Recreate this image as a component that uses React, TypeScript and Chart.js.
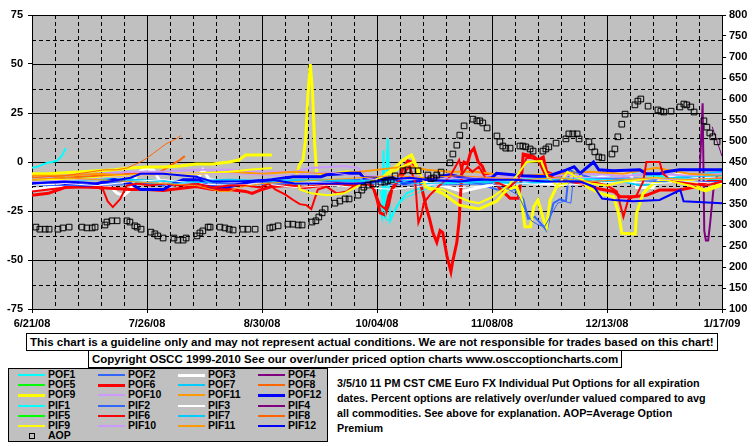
import React, { useEffect, useRef } from "react";
import { Chart, registerables } from "chart.js";
Chart.register(...registerables);

type P = [number, number | null];

// x = days since 6/21/08
const DATE_LABELS = ["6/21/08", "7/26/08", "8/30/08", "10/04/08", "11/08/08", "12/13/08", "1/17/09"];

const POF1: P[] = [[0,-3],[1.5,-2.5],[3,-1.5],[4.5,-0.5],[6,0],[7.5,0.5],[9,3],[10.3,7],[10.4,null],[100,-10],[102,-12],[104,-14],[105.5,-22],[106.5,-28],[107,6],[107.4,-29],[108.3,12],[109,-30],[110,-26],[112,-20],[114,-16],[117,-14],[121,-12],[125,-11],[130,-10],[135,-11],[140,-11],[150,-10],[160,-9],[170,-8],[175,-7],[180,-6],[190,-7],[200,-8],[210,-9]];
const POF2: P[] = [[0,-11],[10,-10],[20,-11],[30,-10],[40,-12],[50,-10],[60,-11],[70,-10],[80,-11],[90,-10],[100,-9],[110,-11],[120,-10],[130,-9],[136,-11],[141.5,-14],[147,-14],[149.5,-19],[151,-29],[153,-28],[155.7,-33],[156.6,-35],[158.7,-21],[160.7,-19],[162.5,-20],[163.5,-4],[166,-6],[172,-9],[180,-8],[190,-9],[200,-8],[210,-8]];
const POF3: P[] = [[0,-14],[5,-13],[10,-13],[15,-12],[20,-11],[24,-13],[26,-16],[28,-17],[30,-14],[32,-6],[34,-3.5],[37,-4],[39,-10],[42,-12],[47,-11],[50,-10],[52,-4],[54,-9],[60,-10],[66,-10],[73,-9],[80,-10],[90,-11],[100,-12],[110,-11],[118,-10],[125,-12],[131,-15],[136,-13],[142,-11],[150,-10],[158,-11],[165,-9],[172,-8],[177,-6],[182,-6],[184,-13],[189,-13],[191,-9],[197,-6],[203,-8],[210,-8]];
const POF4: P[] = [[203,-14],[204.1,30],[204.6,-35],[205.1,-40],[205.8,-40],[206.4,-31],[207.4,-14],[208.4,-7.5],[210,-5]];
const POF5: P[] = [];
const POF6: P[] = [[0,-17],[5,-16],[10,-13],[15,-12.5],[20,-13],[25,-13.5],[30,-14],[35,-14],[40,-14.5],[45,-13.5],[50,-12.5],[55,-14],[60,-14],[65,-15],[67,-16],[70,-14],[73,-12.5],[78,-12],[83,-13],[88,-12],[93,-11],[98,-12],[103.5,-11],[105,-19],[106,-26],[107.4,-27],[108.5,-22],[109.5,-14],[111,-11],[113,-3],[114.4,0.6],[115.4,0],[117,-2.4],[118,-9],[119,-16],[120,-23],[121,-29],[122,-36],[123.2,-41],[124.2,-35],[125,-36],[126.3,-48],[127.5,-56],[128,-51],[129.3,-41],[130,-30],[130.9,-2],[131.5,0],[132.5,-1],[133.5,5],[134.5,7],[135.8,0],[137,-2],[138,-6],[140,-8],[142.4,-13.5],[145.5,-18.5],[148,-18.5],[149,-7.5],[149.5,4],[152.5,3],[154,1],[155.6,2.5],[156.6,-5],[162,-9],[167,-11],[172,-13.5],[177,-15],[179,-17.7],[183,-17.7],[187,-17],[191,-14.3],[197,-14.3],[202,-12.6],[207,-9],[210,-9]];
const POF7: P[] = [[0,-9],[15,-8],[30,-9],[45,-10],[60,-9],[75,-10],[90,-9],[105,-10],[120,-9],[135,-10],[150,-11],[165,-9],[175,-8],[180,-10],[185,-12],[190,-11],[200,-7],[210,-5]];
const POF8: P[] = [[0,-9],[10,-8],[20,-7],[30,-6],[35,-5.5],[39,-5],[41,-3],[43,-1],[45,1],[46.5,3]];
const POF9: P[] = [[0,-6],[5,-6],[10,-5.5],[15,-5],[20,-4.5],[25,-4],[30,-3],[35,-2.5],[40,-2.5],[45,-2],[50,-1],[55,-1],[60,0],[63,1],[65,3.6],[73,3.6],[73.1,null],[79,-8],[80.5,-7],[81.5,-1],[82.5,1],[83.3,12],[84,35],[84.7,50],[85.4,35],[86,10],[86.6,-5],[88,-7],[92,-6],[96,-5],[100,-6],[103,-8],[106,-9],[108,-6],[111,-2],[113,1],[115.5,3.6],[117,-2],[118,-9],[120,-13],[125,-16],[130,-22],[136,-24],[141.4,-20],[144.4,-14.3],[147.5,-12.6],[149,-19.4],[150,-33],[151.7,-33],[152.7,-22.8],[154,-19.4],[155.7,-29.5],[156.6,-33],[157.7,-19.4],[159.7,-12.6],[162.7,-10.9],[165.8,-4.1],[168.8,-12.6],[172.9,-16],[177,-17.7],[178.5,-26],[179.5,-36.4],[183.6,-36.7],[184,-26],[186,-16],[189,-10.9],[193.2,-9.2],[197.3,-9.2],[201.4,-10],[203.4,-13.5],[205,-14.3],[207.4,-12.6],[210,-10.9]];
const POF10: P[] = [[0,-8],[10,-7],[20,-6],[30,-5],[40,-5],[50,-4],[60,-4],[70,-5],[80,-5],[85,-3],[90,-2.5],[95,-2],[99,-3],[102,-7],[110,-8],[120,-7],[130,-8],[140,-7],[150,-8],[160,-7],[170,-6],[180,-7],[190,-6],[200,-7],[210,-6]];
const POF11: P[] = [[0,-7],[10,-7],[20,-6],[30,-7],[40,-6],[50,-6],[60,-5],[70,-6],[80,-5],[90,-6],[100,-5],[110,-3],[115,-2],[120,-4],[127,-5],[135,-5],[140,-6],[150,-7],[160,-6],[170,-5],[180,-6],[190,-3],[193,-4],[200,-6],[210,-7]];
const POF12: P[] = [[0,-10],[5,-10],[10,-11],[15,-12],[18,-12],[22,-10],[25,-9],[30,-11],[33,-14],[36,-14],[40,-14],[43,-11],[46,-9],[51,-9],[54,-12.6],[60,-12.6],[67,-10],[73,-9],[79.5,-7.5],[88,-7.5],[89.6,-6.5],[97,-5.8],[99.8,-5.8],[101,-8],[110,-8],[113,-11],[120,-9],[127,-6.5],[135,-9],[140,-8],[141.4,-5.8],[149.5,-7],[156.6,-7.5],[162.7,-4],[165,-2.4],[166.8,-5.8],[170.9,0],[172.5,-4],[177,-4.5],[185,-4],[187,-6],[191,-6],[193,-5],[197,-4],[210,-4]];

const PIF1: P[] = [[100,-9],[104,-11],[106,-15],[108,-30],[109,-29],[111,-22],[114,-18],[117,-16],[121,-13],[127,-11],[135,-10],[145,-9],[160,-8],[175,-9],[190,-8],[210,-9]];
const PIF2: P[] = [[0,-12],[20,-12],[40,-11],[60,-12],[80,-11],[100,-11],[120,-12],[140,-11],[145,-14],[148,-17],[150,-24],[152,-30],[154,-32],[156,-33],[158,-27],[160,-21],[162,-20],[164,-21],[165,-5],[170,-8],[190,-10],[210,-10]];
const PIF3: P[] = [[0,-12],[10,-11],[20,-12],[30,-10],[40,-9],[50,-11],[60,-12],[70,-11],[80,-13],[90,-12],[100,-13],[110,-14],[120,-12],[130,-13],[140,-12],[150,-11],[160,-12],[170,-11],[180,-10],[190,-11],[200,-10],[210,-11]];
const PIF4: P[] = [[207,18],[208,13],[209,8],[210,3]];
const PIF5: P[] = [];
const PIF6: P[] = [[0,-15],[5,-14],[10,-13],[15,-13],[20,-13],[21.6,-14],[23,-20],[24.6,-23],[26.8,-19],[28.9,-12],[32,-11],[36,-12],[40,-11],[45,-12],[50,-11],[55,-13],[60,-12],[65,-12],[69.4,-13],[72,-11],[74,-14],[77,-16.5],[79.5,-19.4],[81.5,-21.5],[83.5,-22],[85,-24],[86,-19],[87,-14],[89.6,-12.6],[92.7,-16],[95.8,-15],[99,-11],[102,-11],[104,-14],[106,-22],[107.5,-24],[108.5,-17],[110,-12],[112,-9],[114,-4],[115,-2.4],[116.7,-11],[117.2,-23],[117.6,-31],[118.5,-27],[119.2,-21],[121,-17],[124,-12],[127,-8],[130,1],[131,-6],[132.5,-2.4],[134,-5],[136,-2.4],[138,-8],[141,-10],[145,-13],[148,-9],[150.6,2.6],[154,1],[156,-6],[160,-9],[165,-10],[170,-10],[175,-12],[178,-15],[180,-28],[181.5,-19],[184,-17],[186,-10],[187,0],[191,0],[192,-6],[195,-10],[200,-11],[205,-12],[210,-10]];
const PIF7: P[] = [[0,-10],[20,-9],[40,-11],[60,-10],[80,-9],[100,-10],[120,-11],[140,-10],[160,-9],[175,-10],[185,-9],[195,-8],[210,-7]];
const PIF8: P[] = [[0,-8],[10,-7],[18,-5],[22,-4],[26,-4],[29,-3],[31,-1.5],[33,0],[35,2],[37,4.5],[39,7],[41,9.5],[43,11],[44.5,12.5],[45.3,13.5]];
const PIF9: P[] = [[0,-9],[10,-9],[20,-8],[30,-7],[40,-6],[50,-6],[60,-5],[66,-4],[73,-3],[73.1,null],[81,-10],[81.5,-14],[85,-16],[90,-17],[95,-16],[99.8,-11.7],[102.8,-10],[106,-8],[110,-5],[113,-2],[116,0],[118,-5],[120,-13],[125,-14],[130,-18],[133,-20],[136,-21],[140,-18],[145,-12],[148,-6],[150.5,0],[155,0.5],[157,-8],[160,-12],[163,-5],[166,-8],[170,-11],[175,-12],[180,-10],[185,-9],[190,-8],[195,-10],[200,-12],[205,-15],[210,-12]];
const PIF10: P[] = [[0,-10],[15,-9],[30,-7],[45,-6],[60,-6],[75,-7],[90,-5],[105,-9],[120,-9],[135,-8],[150,-9],[165,-8],[180,-8],[195,-9],[210,-8]];
const PIF11: P[] = [[0,-9],[10,-8],[20,-9],[30,-10],[40,-11],[50,-12],[57,-15],[60,-15],[63,-13],[70,-11],[80,-10],[90,-9],[100,-8],[110,-7],[120,-8],[130,-7],[140,-8],[150,-9],[160,-8],[170,-10],[180,-9],[190,-8],[200,-9],[210,-8]];
const PIF12: P[] = [[0,-11],[10,-10],[20,-11],[30,-8],[33,-6],[40,-6],[50,-7.5],[55,-10],[63,-10],[73,-9],[80,-11],[90,-11],[100,-11],[108,-9],[115,-8],[120,-9],[130,-10],[136,-9],[146.5,-9],[156.6,-10],[166.8,-10],[171,-12.6],[173.5,-18.6],[177,-19.4],[183,-20],[191,-19.4],[197.3,-14.3],[198.3,-20],[210,-21]];

const AOP: P[] = [[1.2,295],[2.4,290],[4,290],[5.2,290],[7.9,290],[9.4,293],[11.3,295],[15.2,295],[16.7,293],[18.3,293],[19.2,295],[22.2,300],[22.8,307],[24.3,310],[25.9,310],[28.9,310],[29.8,307],[31.3,298],[32,295],[33.2,290],[36.2,283],[37.4,279],[38.3,274],[39.9,269],[43.2,269],[44.4,264],[46,264],[46.9,269],[50.2,274],[51.1,281],[52,286],[53.6,295],[54.2,295],[57.2,295],[58.7,293],[60,290],[61.2,288],[64.2,290],[65.7,290],[67.9,290],[72.4,293],[73.3,295],[74.9,298],[77.9,302],[79.4,302],[81,300],[82.2,300],[85.2,307],[86.4,310],[87.3,319],[88.3,329],[89.2,338],[92.2,352],[93.7,357],[95.3,362],[96.5,362],[99.2,371],[100.4,383],[101,390],[102.3,395],[103.8,398],[106.2,402],[107.4,402],[108.3,405],[109.3,407],[110.5,417],[112.9,429],[114.4,431],[115.9,429],[117.5,429],[120.5,419],[121.4,410],[122.3,412],[123.2,419],[124.5,426],[127.2,448],[128.1,469],[129.3,490],[130.2,514],[131.5,536],[134.2,552],[135.4,548],[136.3,548],[137.2,543],[138.5,531],[141.5,512],[142.4,498],[143.3,488],[144.2,483],[145.5,483],[148.5,488],[149.4,488],[150.3,486],[151.6,481],[152.5,476],[155.5,476],[156.4,481],[157.3,486],[159.5,495],[162.5,505],[163.4,517],[164.6,517],[165.9,517],[166.5,505],[169.5,498],[170.4,486],[171.3,474],[172.5,462],[173.5,460],[176.5,469],[177.4,481],[178.3,510],[179.5,540],[180.5,564],[183.5,586],[184.4,595],[185.3,600],[187.5,583],[190.5,574],[191.4,571],[192.3,569],[194.5,571],[197.2,581],[198.4,588],[199.3,586],[200.5,581],[201.5,569],[204.5,548],[205.4,533],[206.3,519],[207.2,510],[208.5,498]];

const SERIES = [
  { label: "POF1", data: POF1, color: "#00ffff", width: 2 },
  { label: "POF2", data: POF2, color: "#3366ff", width: 2 },
  { label: "POF3", data: POF3, color: "#ffffff", width: 3 },
  { label: "POF4", data: POF4, color: "#800080", width: 2 },
  { label: "POF5", data: POF5, color: "#00ff00", width: 2 },
  { label: "POF6", data: POF6, color: "#ff0000", width: 3 },
  { label: "POF7", data: POF7, color: "#00ccff", width: 2 },
  { label: "POF8", data: POF8, color: "#ff6600", width: 2 },
  { label: "POF9", data: POF9, color: "#ffff00", width: 3 },
  { label: "POF10", data: POF10, color: "#cc99ff", width: 2 },
  { label: "POF11", data: POF11, color: "#ff9900", width: 2 },
  { label: "POF12", data: POF12, color: "#0000ff", width: 3 },
  { label: "PIF1", data: PIF1, color: "#00ffff", width: 1 },
  { label: "PIF2", data: PIF2, color: "#3366ff", width: 1 },
  { label: "PIF3", data: PIF3, color: "#ffffff", width: 1 },
  { label: "PIF4", data: PIF4, color: "#800080", width: 1 },
  { label: "PIF5", data: PIF5, color: "#00ff00", width: 1 },
  { label: "PIF6", data: PIF6, color: "#ff0000", width: 2 },
  { label: "PIF7", data: PIF7, color: "#00ccff", width: 1 },
  { label: "PIF8", data: PIF8, color: "#ff6600", width: 1 },
  { label: "PIF9", data: PIF9, color: "#ffff00", width: 2 },
  { label: "PIF10", data: PIF10, color: "#cc99ff", width: 1 },
  { label: "PIF11", data: PIF11, color: "#ff9900", width: 1 },
  { label: "PIF12", data: PIF12, color: "#0000ff", width: 2 },
];

const FONT = '"Liberation Sans", Arial, sans-serif';

const bgGrid = {
  id: "bgGrid",
  beforeDraw(chart: any) {
    const { ctx, chartArea: a } = chart;
    ctx.save();
    ctx.fillStyle = "#c0c0c0";
    ctx.fillRect(a.left, a.top, a.right - a.left, a.bottom - a.top);
    ctx.restore();
  },
  beforeDatasetsDraw(chart: any) {
    const { ctx, chartArea: a, scales } = chart;
    const xs = scales.x, ys = scales.y;
    ctx.save();
    ctx.strokeStyle = "#000";
    ctx.lineWidth = 1;
    for (let v = -75; v <= 75; v += 12.5) {
      const py = Math.round(ys.getPixelForValue(v)) + 0.5;
      ctx.setLineDash(Math.abs(v % 25) < 1e-6 ? [] : [4, 3]);
      ctx.beginPath();
      ctx.moveTo(a.left, py);
      ctx.lineTo(a.right, py);
      ctx.stroke();
    }
    for (let d = 0; d <= 210; d += 7) {
      const px = Math.round(xs.getPixelForValue(d)) + 0.5;
      ctx.setLineDash(d % 35 === 0 ? [] : [4, 3]);
      ctx.beginPath();
      ctx.moveTo(px, a.top);
      ctx.lineTo(px, a.bottom);
      ctx.stroke();
    }
    ctx.restore();
  },
};

function ChartCanvas() {
  const ref = useRef<HTMLCanvasElement | null>(null);
  useEffect(() => {
    if (!ref.current) return;
    Chart.defaults.font.family = FONT;
    Chart.defaults.font.weight = "bold";
    Chart.defaults.font.size = 11;
    Chart.defaults.color = "#000";
    const datasets: any[] = SERIES.map((s, i) => ({
      type: "line",
      label: s.label,
      data: s.data.map(([x, y]) => ({ x, y })),
      borderColor: s.color,
      backgroundColor: s.color,
      borderWidth: s.width,
      pointRadius: 0,
      tension: 0,
      spanGaps: false,
      fill: false,
      yAxisID: "y",
      order: -i,
    }));
    datasets.push({
      type: "scatter",
      label: "AOP",
      data: AOP.map(([x, y]) => ({ x, y })),
      yAxisID: "y1",
      pointStyle: "rect",
      pointRadius: 4,
      borderColor: "#000",
      borderWidth: 1,
      backgroundColor: "rgba(0,0,0,0)",
      showLine: false,
      order: -100,
    });
    const chart = new Chart(ref.current, {
      type: "line",
      data: { datasets },
      options: {
        animation: false,
        responsive: false,
        devicePixelRatio: 1,
        events: [],
        layout: { padding: { top: 15, left: 0, right: 0, bottom: 0 } },
        plugins: { legend: { display: false }, tooltip: { enabled: false } },
        scales: {
          x: {
            type: "linear",
            min: 0,
            max: 210,
            afterFit: (s: any) => { s.height = 21; },
            ticks: {
              stepSize: 35,
              autoSkip: false,
              maxRotation: 0,
              padding: 4,
              color: "#000",
              font: { size: 11, weight: "bold", family: FONT },
              callback: (v: any) => DATE_LABELS[Math.round(Number(v) / 35)] ?? "",
            },
            grid: { drawOnChartArea: false, drawTicks: true, tickLength: 4, color: "#000" },
            border: { display: true, color: "#000" },
          },
          y: {
            position: "left",
            min: -75,
            max: 75,
            afterFit: (s: any) => { s.width = 32; },
            ticks: { stepSize: 25, padding: 5, color: "#000", font: { size: 11, weight: "bold", family: FONT } },
            grid: { drawOnChartArea: false, drawTicks: true, tickLength: 4, color: "#000" },
            border: { display: true, color: "#000" },
          },
          y1: {
            position: "right",
            min: 100,
            max: 800,
            afterFit: (s: any) => { s.width = 33; },
            ticks: { stepSize: 50, padding: 3, color: "#000", font: { size: 11, weight: "bold", family: FONT } },
            grid: { drawOnChartArea: false, drawTicks: true, tickLength: 4, color: "#000" },
            border: { display: true, color: "#000" },
          },
        },
      },
      plugins: [bgGrid],
    } as any);
    return () => chart.destroy();
  }, []);
  return <canvas ref={ref} width={755} height={330} style={{ position: "absolute", left: 0, top: 0, width: 755, height: 330 }} />;
}

const LEGEND_ROWS: string[][] = [
  ["POF1", "POF2", "POF3", "POF4"],
  ["POF5", "POF6", "POF7", "POF8"],
  ["POF9", "POF10", "POF11", "POF12"],
  ["PIF1", "PIF2", "PIF3", "PIF4"],
  ["PIF5", "PIF6", "PIF7", "PIF8"],
  ["PIF9", "PIF10", "PIF11", "PIF12"],
];
const LEGEND_COL_X = [18, 98, 178, 258];

const NOTE_LINES = [
  "3/5/10 11 PM CST CME Euro FX Individual Put Options for all expiration",
  "dates. Percent options are relatively over/under valued compared to avg",
  "all commodities. See above for explanation. AOP=Average Option",
  "Premium",
];

function Legend() {
  const items: React.ReactNode[] = [];
  LEGEND_ROWS.forEach((row, r) => {
    row.forEach((name, c) => {
      const s = SERIES.find((q) => q.label === name)!;
      const cy = 375 + r * 10.17;
      const lw = Math.max(2, s.width);
      items.push(
        <div key={name + "l"} style={{ position: "absolute", left: LEGEND_COL_X[c], top: Math.round(cy - lw / 2), width: 27, height: lw, background: s.color }} />
      );
      items.push(
        <div key={name + "t"} style={{ position: "absolute", left: LEGEND_COL_X[c] + 30, top: Math.round(cy - 7), fontSize: 10.5, lineHeight: "13px", fontWeight: "bold", whiteSpace: "nowrap" }}>{name}</div>
      );
    });
  });
  const cyA = 375 + 6 * 10.17;
  items.push(<div key="aopsq" style={{ position: "absolute", left: 29, top: Math.round(cyA - 3), width: 6, height: 6, border: "1px solid #000", boxSizing: "border-box" }} />);
  items.push(<div key="aopt" style={{ position: "absolute", left: 48, top: Math.round(cyA - 7), fontSize: 10.5, lineHeight: "13px", fontWeight: "bold" }}>AOP</div>);
  return <>{items}</>;
}

export default function App() {
  return (
    <div style={{ position: "absolute", left: 0, top: 0, width: 755, height: 446, background: "#fff", overflow: "hidden", fontFamily: FONT, color: "#000" }}>
      <ChartCanvas />
      <div style={{ position: "absolute", left: 26, top: 333, width: 692, height: 18, boxSizing: "border-box", border: "1px solid #000", background: "#fff", paddingLeft: 3, fontSize: 11.5, lineHeight: "16px", fontWeight: "bold", whiteSpace: "nowrap" }}>
        This chart is a guideline only and may not represent actual conditions. We are not responsible for trades based on this chart!
      </div>
      <div style={{ position: "absolute", left: 88, top: 350, width: 534, height: 18, boxSizing: "border-box", border: "1px solid #000", background: "#fff", paddingLeft: 3, fontSize: 11.5, lineHeight: "16px", fontWeight: "bold", whiteSpace: "nowrap" }}>
        Copyright OSCC 1999-2010 See our over/under priced option charts www.osccoptioncharts.com
      </div>
      <div style={{ position: "absolute", left: 8, top: 368, width: 320, height: 74, boxSizing: "border-box", border: "1px solid #000", background: "#c0c0c0" }} />
      <Legend />
      <div style={{ position: "absolute", left: 337, top: 376, fontSize: 10.75, lineHeight: "15px", fontWeight: "bold", whiteSpace: "nowrap" }}>
        {NOTE_LINES.map((l, i) => (<div key={i}>{l}</div>))}
      </div>
    </div>
  );
}
